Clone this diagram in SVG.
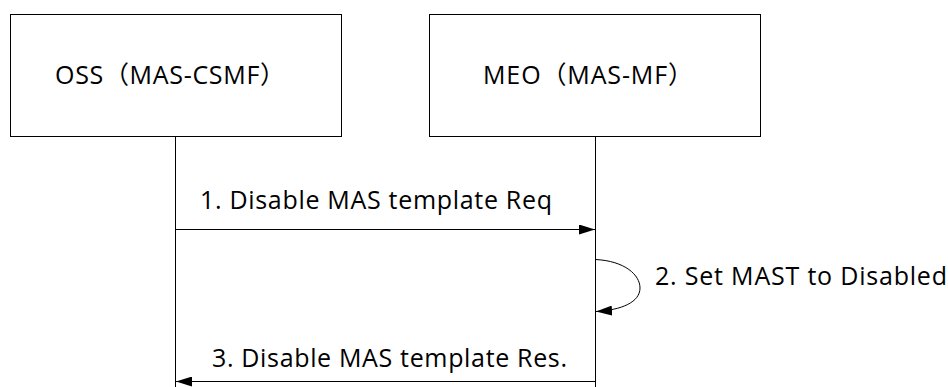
<svg xmlns="http://www.w3.org/2000/svg" width="948" height="387" viewBox="0 0 948 387">
<defs>
<style>
.box{fill:#fff;stroke:#000;stroke-width:1}
.ln{fill:none;stroke:#000;stroke-width:1}
.t{font-family:"Open Sans","Noto Sans CJK SC",sans-serif;font-size:25px;fill:#000}
</style>
<marker id="ah" viewBox="0 0 16 10" refX="16" refY="5" markerWidth="16" markerHeight="10" markerUnits="userSpaceOnUse" orient="auto">
<path d="M0,0 L16,5 L0,10 Z" fill="#000"/>
</marker>
</defs>
<rect width="948" height="387" fill="#fff"/>
<g id="oss">
<rect class="box" x="10.5" y="14.5" width="331" height="122"/>
<text class="t" x="55" y="84" textLength="230" lengthAdjust="spacing">OSS（MAS-CSMF）</text>
</g>
<g id="meo">
<rect class="box" x="429.5" y="14.5" width="331" height="122"/>
<text class="t" x="483" y="84" textLength="210" lengthAdjust="spacing">MEO（MAS-MF）</text>
</g>
<g id="connectors">
<line class="ln" x1="175.5" y1="136.5" x2="175.5" y2="387"/>
<line class="ln" x1="595.5" y1="136.5" x2="595.5" y2="387"/>
<line class="ln" x1="175.5" y1="229.5" x2="595" y2="229.5" marker-end="url(#ah)"/>
<path class="ln" d="M595.5,259.5 C625,261 640,275 640,288 C640,302 622,310 596,311.5" marker-end="url(#ah)"/>
<line class="ln" x1="595.5" y1="381.5" x2="176" y2="381.5" marker-end="url(#ah)"/>
</g>
<g id="labels">
<text class="t" x="200" y="209" textLength="352" lengthAdjust="spacing">1. Disable MAS template Req</text>
<text class="t" x="655" y="285" textLength="292" lengthAdjust="spacing">2. Set MAST to Disabled</text>
<text class="t" x="212" y="367" textLength="355" lengthAdjust="spacing">3. Disable MAS template Res.</text>
</g>
</svg>
